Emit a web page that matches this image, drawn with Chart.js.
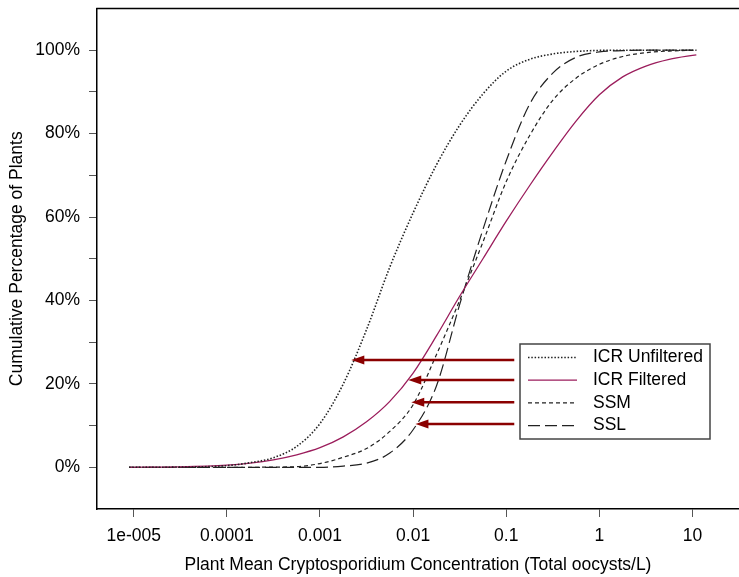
<!DOCTYPE html>
<html>
<head>
<meta charset="utf-8">
<script src="https://cdn.jsdelivr.net/npm/chart.js@4.4.0/dist/chart.umd.min.js"></script>
<style>
  html, body { margin: 0; padding: 0; background: #fff; overflow: hidden; }
  canvas { display: block; }
</style>
</head>
<body>
<canvas id="myChart" width="739" height="577"></canvas>
<script>
// plant mean concentration (oocysts/L), shared by every curve
var conc = [0.0000089, 0.0000316, 0.0001, 0.000178, 0.000316, 0.000562, 0.001, 0.00178,
            0.00316, 0.00562, 0.01, 0.0178, 0.0316, 0.0562, 0.1, 0.178, 0.316, 0.562,
            1, 1.78, 3.16, 5.62, 11];

// cumulative % of plants
var icrUnfiltered = [0, 0.05, 0.4, 1.1, 2.3, 5, 10.5, 20, 33, 48, 61, 72.5, 82, 89.5, 95, 97.8, 99.1, 99.7, 99.95, 100, 100, 100, 100];
var icrFiltered   = [0, 0.1, 0.5, 1.0, 1.8, 3.0, 4.7, 7.3, 10.9, 15.8, 22.6, 31.5, 41, 50, 59, 67.5, 75.5, 83, 89.3, 93.6, 96.2, 97.8, 98.9];
var ssm           = [0, 0, 0, 0, 0.05, 0.15, 0.9, 2.4, 4.5, 8.6, 15, 27, 40, 54, 68.5, 79.5, 88, 93.3, 96.6, 98.5, 99.4, 99.8, 100];
var ssl           = [0, 0, 0, 0, 0, 0, 0, 0.3, 1.0, 3.4, 9.0, 19.5, 39, 57, 73.5, 87, 94.5, 98.3, 99.6, 99.9, 100, 100, 100];

var xTicks = [0.00001, 0.0001, 0.001, 0.01, 0.1, 1, 10];
var xTickLabels = ['1e-005', '0.0001', '0.001', '0.01', '0.1', '1', '10'];
var yTicks = [0, 10, 20, 30, 40, 50, 60, 70, 80, 90, 100];

// arrows pointing at each curve
var arrowY = [25.7, 20.9, 15.6, 10.4];
var arrowTipX = [0.00217, 0.00887, 0.00955, 0.0106];
var arrowTailX = 0.122;

var fontFamily = "'Liberation Sans', Arial, sans-serif";
Chart.defaults.font.family = fontFamily;
Chart.defaults.font.size = 17.5;
Chart.defaults.color = '#000';

function pts(vals) {
    return conc.map(function(c, i) { return { x: c, y: vals[i] }; });
}

var overlay = {
    id: 'overlay',
    afterDraw: function(chart) {
        var ctx = chart.ctx, a = chart.chartArea;
        var xs = chart.scales.x, ys = chart.scales.y;
        ctx.save();

        // top edge of the frame
        ctx.strokeStyle = '#000';
        ctx.lineWidth = 1.5;
        ctx.beginPath();
        ctx.moveTo(a.left - 0.75, a.top);
        ctx.lineTo(a.right, a.top);
        ctx.stroke();

        // arrows
        ctx.strokeStyle = '#8b0000';
        ctx.fillStyle = '#8b0000';
        ctx.lineWidth = 2.5;
        arrowY.forEach(function(v, i) {
            var py = ys.getPixelForValue(v);
            var x0 = xs.getPixelForValue(arrowTailX);
            var x1 = xs.getPixelForValue(arrowTipX[i]);
            ctx.beginPath();
            ctx.moveTo(x0, py);
            ctx.lineTo(x1 + 10, py);
            ctx.stroke();
            ctx.beginPath();
            ctx.moveTo(x1, py);
            ctx.lineTo(x1 + 13, py - 4.5);
            ctx.lineTo(x1 + 13, py + 4.5);
            ctx.closePath();
            ctx.fill();
        });

        // legend box
        var lx = 520, ly = 344, lw = 190, lh = 95;
        ctx.fillStyle = '#fff';
        ctx.fillRect(lx, ly, lw, lh);
        ctx.strokeStyle = '#444';
        ctx.lineWidth = 1.5;
        ctx.strokeRect(lx, ly, lw, lh);
        ctx.font = '17.5px ' + fontFamily;
        ctx.textBaseline = 'middle';
        ctx.textAlign = 'left';
        chart.data.datasets.forEach(function(ds, i) {
            var y = ly + 13.5 + i * 22.7;
            ctx.strokeStyle = ds.borderColor;
            ctx.lineWidth = ds.borderWidth;
            ctx.setLineDash(ds.borderDash || []);
            ctx.beginPath();
            ctx.moveTo(lx + 8, y);
            ctx.lineTo(lx + 57, y);
            ctx.stroke();
            ctx.setLineDash([]);
            ctx.fillStyle = '#000';
            ctx.fillText(ds.label, lx + 73, y);
        });
        ctx.restore();
    }
};

var ctx = document.getElementById('myChart').getContext('2d');

var myChart = new Chart(ctx, {
    type: 'line',
    data: {
        datasets: [
            { label: 'ICR Unfiltered', data: pts(icrUnfiltered), borderColor: '#222', borderWidth: 1.6, borderDash: [1.5, 1.8] },
            { label: 'ICR Filtered', data: pts(icrFiltered), borderColor: '#9b1d5c', borderWidth: 1.3 },
            { label: 'SSM', data: pts(ssm), borderColor: '#222', borderWidth: 1.2, borderDash: [4, 3] },
            { label: 'SSL', data: pts(ssl), borderColor: '#222', borderWidth: 1.2, borderDash: [12, 5] }
        ]
    },
    options: {
        responsive: false,
        animation: false,
        devicePixelRatio: 1,
        layout: { padding: { top: 8.5, left: 0, right: 0, bottom: 0 } },
        elements: {
            point: { radius: 0 },
            line: { cubicInterpolationMode: 'monotone', fill: false }
        },
        plugins: {
            legend: { display: false },
            tooltip: { enabled: false }
        },
        scales: {
            x: {
                type: 'logarithmic',
                min: 0.00000403,
                max: 31.6,
                afterBuildTicks: function(s) {
                    s.ticks = xTicks.map(function(v) { return { value: v }; });
                },
                afterFit: function(s) {
                    s.height = 68;
                    s.paddingLeft = 0;
                    s.paddingRight = 0;
                },
                ticks: {
                    autoSkip: false,
                    maxRotation: 0,
                    padding: 9,
                    callback: function(v, i) { return xTickLabels[i]; }
                },
                grid: { drawOnChartArea: false, tickLength: 8, color: '#555' },
                border: { display: true, color: '#000', width: 1.5 },
                title: {
                    display: true,
                    text: 'Plant Mean Cryptosporidium Concentration (Total oocysts/L)',
                    padding: { top: 0, bottom: 1.5 }
                }
            },
            y: {
                min: -10,
                max: 110,
                afterBuildTicks: function(s) {
                    s.ticks = yTicks.map(function(v) { return { value: v }; });
                },
                afterFit: function(s) {
                    s.width = 97;
                    s.paddingTop = 0;
                    s.paddingBottom = 0;
                },
                ticks: {
                    padding: 9,
                    callback: function(v) { return v % 20 === 0 ? v + '%' : ''; }
                },
                grid: { drawOnChartArea: false, tickLength: 8, color: '#555' },
                border: { display: true, color: '#000', width: 1.5 },
                title: {
                    display: true,
                    text: 'Cumulative Percentage of Plants',
                    padding: { top: 7, bottom: 0 }
                }
            }
        }
    },
    plugins: [overlay]
});
</script>
</body>
</html>
